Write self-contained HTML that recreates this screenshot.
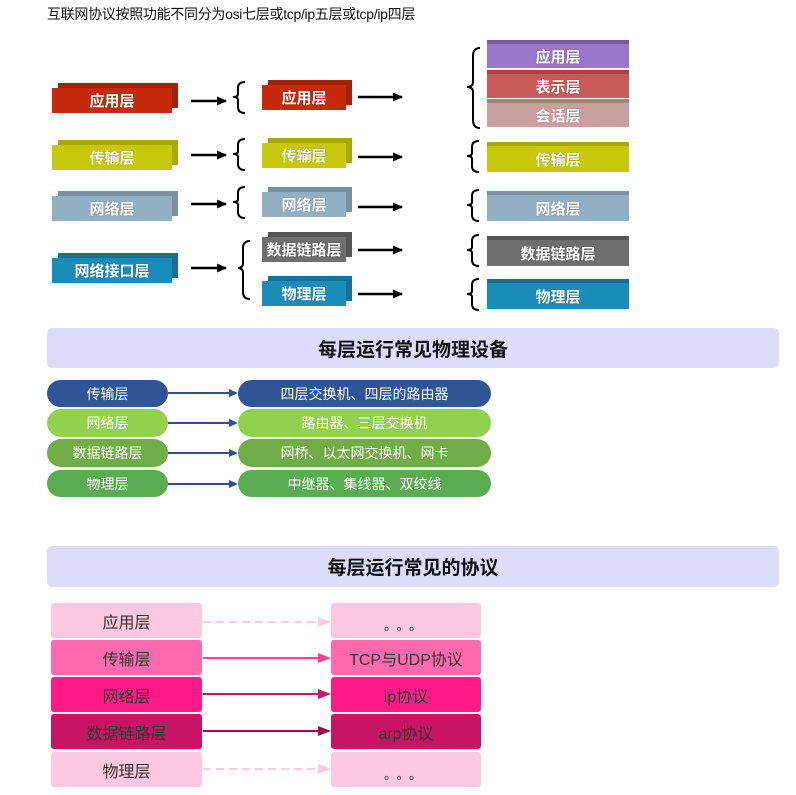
<!DOCTYPE html>
<html><head><meta charset="utf-8"><style>
body{margin:0;width:796px;height:795px;background:#fff;position:relative;font-family:"Liberation Sans","Noto Sans CJK SC",sans-serif;overflow:hidden}
.a{position:absolute}
.b{position:absolute;color:#fff;font-weight:bold;font-size:15px;display:flex;align-items:center;justify-content:center;text-shadow:0 0 1px rgba(0,0,0,.4)}
.hd{position:absolute;left:47px;width:732px;background:#dedcfb;border-radius:5px;display:flex;align-items:center;justify-content:center;font-size:19px;font-weight:bold;color:#111}
.p{position:absolute;color:#fff;font-size:14px;display:flex;align-items:center;justify-content:center;border-radius:14px}
.q{position:absolute;color:#333;font-size:16px;display:flex;align-items:center;justify-content:center;border-radius:3px}
.d{letter-spacing:6px;padding-top:8px;font-size:13px}
</style></head><body>
<div class="a" style="left:47px;top:4px;font-size:14px;letter-spacing:-0.3px;color:#111">互联网协议按照功能不同分为osi七层或tcp/ip五层或tcp/ip四层</div>
<svg class="a" style="left:0;top:0" width="796" height="320">
<defs><marker id="ar" markerUnits="userSpaceOnUse" markerWidth="10" markerHeight="10" refX="9" refY="5" orient="auto"><path d="M0,0.5 L10,5 L0,9.5z" fill="#000"/></marker></defs>
<g fill="none" stroke="#000" stroke-width="2.5">
<path d="M191,101H226" marker-end="url(#ar)"/><path d="M191,155H226" marker-end="url(#ar)"/><path d="M191,204H226" marker-end="url(#ar)"/><path d="M191,268H226" marker-end="url(#ar)"/>
<path d="M358,97H402" marker-end="url(#ar)"/><path d="M358,157H402" marker-end="url(#ar)"/><path d="M358,207H402" marker-end="url(#ar)"/><path d="M358,250H402" marker-end="url(#ar)"/><path d="M358,294H402" marker-end="url(#ar)"/>
</g>
<g fill="none" stroke="#000" stroke-width="2">
<path d="M245,82 Q238,82 238,88 V94 Q238,97 233,97 Q238,97 238,100 V107 Q238,113 245,113"/>
<path d="M245,139 Q238,139 238,145 V151 Q238,154 233,154 Q238,154 238,157 V164 Q238,170 245,170"/>
<path d="M245,187 Q238,187 238,193 V199 Q238,202 233,202 Q238,202 238,205 V212 Q238,218 245,218"/>
<path d="M250,241 Q243,241 243,248 V263 Q243,268 238,268 Q243,268 243,273 V292 Q243,299 250,299"/>
<path d="M480,48 Q473,48 473,56 V82 Q473,87 467,87 Q473,87 473,92 V120 Q473,128 480,128"/>
<path d="M479,141 Q472,141 472,147 V153 Q472,156 467,156 Q472,156 472,159 V166 Q472,172 479,172"/>
<path d="M479,190 Q472,190 472,196 V202 Q472,205 467,205 Q472,205 472,208 V215 Q472,221 479,221"/>
<path d="M479,235 Q472,235 472,241 V247 Q472,250 467,250 Q472,250 472,253 V260 Q472,266 479,266"/>
<path d="M479,279 Q472,279 472,285 V291 Q472,294 467,294 Q472,294 472,297 V304 Q472,310 479,310"/>
</g>
</svg>
<div class="b" style="left:52px;top:88px;width:120px;height:25px;background:#c62a0a;box-shadow:6px -5px 0 #a52008">应用层</div>
<div class="b" style="left:52px;top:145px;width:120px;height:25px;background:#c8c80a;box-shadow:6px -5px 0 #a8a800">传输层</div>
<div class="b" style="left:52px;top:196px;width:120px;height:25px;background:#93afc3;box-shadow:6px -5px 0 #7890a3">网络层</div>
<div class="b" style="left:52px;top:258px;width:120px;height:25px;background:#1a8cb8;box-shadow:6px -5px 0 #157095">网络接口层</div>
<div class="b" style="left:262px;top:85px;width:84px;height:25px;background:#c62a0a;box-shadow:6px -5px 0 #a52008">应用层</div>
<div class="b" style="left:262px;top:143px;width:84px;height:25px;background:#c8c80a;box-shadow:6px -5px 0 #a8a800">传输层</div>
<div class="b" style="left:262px;top:192px;width:84px;height:25px;background:#93afc3;box-shadow:6px -5px 0 #7890a3">网络层</div>
<div class="b" style="left:262px;top:237px;width:84px;height:25px;background:#6e6e6e;box-shadow:6px -5px 0 #555">数据链路层</div>
<div class="b" style="left:262px;top:281px;width:84px;height:25px;background:#1a8cb8;box-shadow:6px -5px 0 #157095">物理层</div>
<div class="b" style="left:487px;top:44px;width:142px;height:24px;background:#9b77c9;box-shadow:0 -4px 0 #7d5aa8">应用层</div>
<div class="b" style="left:487px;top:74px;width:142px;height:24px;background:#c85a5a;box-shadow:0 -4px 0 #a84444">表示层</div>
<div class="b" style="left:487px;top:103px;width:142px;height:24px;background:#c9a0a0;box-shadow:0 -4px 0 #a88080">会话层</div>
<div class="b" style="left:487px;top:146px;width:142px;height:26px;background:#c8c80a;box-shadow:0 -4px 0 #a8a800">传输层</div>
<div class="b" style="left:487px;top:195px;width:142px;height:26px;background:#93afc3;box-shadow:0 -4px 0 #7890a3">网络层</div>
<div class="b" style="left:487px;top:240px;width:142px;height:26px;background:#6e6e6e;box-shadow:0 -4px 0 #555">数据链路层</div>
<div class="b" style="left:487px;top:283px;width:142px;height:26px;background:#1a8cb8;box-shadow:0 -4px 0 #157095">物理层</div>

<div class="hd" style="top:328px;height:40px">每层运行常见物理设备</div>
<div class="p" style="left:47px;top:380px;width:121px;height:27px;background:#2f5597">传输层</div>
<div class="p" style="left:47px;top:409px;width:121px;height:28px;background:#92d050">网络层</div>
<div class="p" style="left:47px;top:439px;width:121px;height:28px;background:#70ad47">数据链路层</div>
<div class="p" style="left:47px;top:470px;width:121px;height:27px;background:#5aac50">物理层</div>
<div class="p" style="left:238px;top:380px;width:253px;height:27px;background:#2f5597">四层交换机、四层的路由器</div>
<div class="p" style="left:238px;top:409px;width:253px;height:28px;background:#92d050">路由器、三层交换机</div>
<div class="p" style="left:238px;top:439px;width:253px;height:28px;background:#70ad47">网桥、以太网交换机、网卡</div>
<div class="p" style="left:238px;top:470px;width:253px;height:27px;background:#5aac50">中继器、集线器、双绞线</div>
<svg class="a" style="left:0;top:370px" width="796" height="140">
<g stroke="#2f4f8f" stroke-width="2"><path d="M168,23H230"/><path d="M168,53H230"/><path d="M168,83H230"/><path d="M168,114H230"/></g>
<g fill="#2f4f8f"><path d="M229,19L238,23L229,27z"/><path d="M229,49L238,53L229,57z"/><path d="M229,79L238,83L229,87z"/><path d="M229,110L238,114L229,118z"/></g>
</svg>

<div class="hd" style="top:546px;height:41px">每层运行常见的协议</div>
<div class="q" style="left:51px;top:603px;width:151px;height:35px;background:#ffc8e1">应用层</div>
<div class="q" style="left:51px;top:640px;width:151px;height:35px;background:#ff69b0">传输层</div>
<div class="q" style="left:51px;top:677px;width:151px;height:35px;background:#ff1a88">网络层</div>
<div class="q" style="left:51px;top:714px;width:151px;height:35px;background:#c81464">数据链路层</div>
<div class="q" style="left:51px;top:752px;width:151px;height:35px;background:#ffc8e1">物理层</div>
<div class="q d" style="left:331px;top:603px;width:150px;height:27px;background:#ffc8e1">。。。</div>
<div class="q" style="left:331px;top:640px;width:150px;height:35px;background:#ff69b0">TCP与UDP协议</div>
<div class="q" style="left:331px;top:677px;width:150px;height:35px;background:#ff1a88">ip协议</div>
<div class="q" style="left:331px;top:714px;width:150px;height:35px;background:#c81464">arp协议</div>
<div class="q d" style="left:331px;top:752px;width:150px;height:27px;background:#ffc8e1">。。。</div>
<svg class="a" style="left:0;top:600px" width="796" height="195">
<g stroke-width="2">
<path d="M203,22H318" stroke="#ffc8e1" stroke-dasharray="8,5"/><path d="M318,17L331,22L318,27z" fill="#ffc8e1"/>
<path d="M203,58H318" stroke="#ff3f9c"/><path d="M318,53L331,58L318,63z" fill="#ff3f9c"/>
<path d="M203,94H318" stroke="#d0106c"/><path d="M318,89L331,94L318,99z" fill="#d0106c"/>
<path d="M203,131H318" stroke="#a00a50"/><path d="M318,126L331,131L318,136z" fill="#a00a50"/>
<path d="M203,169H318" stroke="#ffc8e1" stroke-dasharray="8,5"/><path d="M318,164L331,169L318,174z" fill="#ffc8e1"/>
</g></svg>
</body></html>
